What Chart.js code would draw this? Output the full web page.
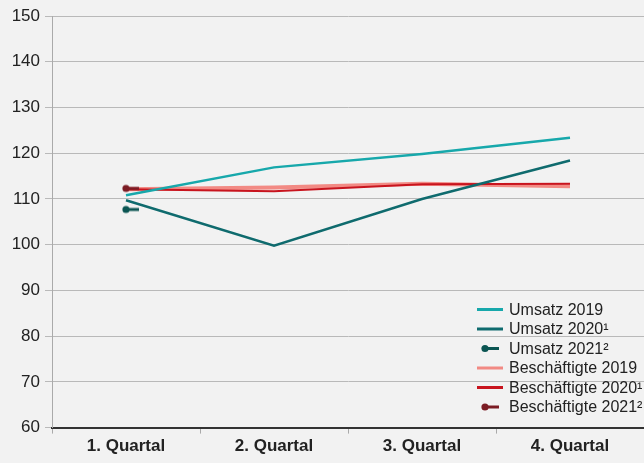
<!DOCTYPE html>
<html><head><meta charset="utf-8">
<script src="https://cdn.jsdelivr.net/npm/chart.js@4"></script>
<style>
html,body{margin:0;padding:0;background:#f2f2f2;}
#wrap{width:644px;height:463px;position:relative;}
</style></head>
<body><div id="wrap"><canvas id="c" width="644" height="463"></canvas></div>
<script>
const categories = ["1. Quartal","2. Quartal","3. Quartal","4. Quartal"];
const umsatz2019 = [110.8, 116.9, 119.8, 123.4];
const umsatz2020 = [109.7, 99.8, 110.0, 118.4];
const umsatz2021 = [107.7, null, null, null];
const besch2019 = [112.1, 112.5, 113.3, 112.8];
const besch2020 = [112.1, 111.7, 113.2, 113.3];
const besch2021 = [112.3, null, null, null];
const yTicks = [60,70,80,90,100,110,120,130,140,150];

const FONT = "'Liberation Sans', Arial, Helvetica, sans-serif";
const C = {
  u19:'#17a8ab', u20:'#0f6b6e', u21:'#0b5552',
  b19:'#f28a84', b20:'#c8141e', b21:'#7b1c24'
};
function stubPoint(color){
  const c=document.createElement('canvas'); c.width=30; c.height=10;
  const x=c.getContext('2d');
  x.strokeStyle=color; x.lineWidth=3; x.beginPath(); x.moveTo(15,5); x.lineTo(28,5); x.stroke();
  x.fillStyle=color; x.beginPath(); x.arc(15,5,3.6,0,Math.PI*2); x.fill();
  return c;
}
const datasets = [
  {label:'Umsatz 2019', data:umsatz2019, borderColor:C.u19, borderWidth:2.5, pointRadius:0, order:1, kind:'line'},
  {label:'Umsatz 2020\u00B9', data:umsatz2020, borderColor:C.u20, borderWidth:2.5, pointRadius:0, order:2, kind:'line'},
  {label:'Umsatz 2021\u00B2', data:umsatz2021, borderColor:C.u21, backgroundColor:C.u21, borderWidth:2.5, pointRadius:5, pointStyle:stubPoint(C.u21), order:0, kind:'stub'},
  {label:'Besch\u00E4ftigte 2019', data:besch2019, borderColor:C.b19, borderWidth:4, pointRadius:0, order:4, kind:'line'},
  {label:'Besch\u00E4ftigte 2020\u00B9', data:besch2020, borderColor:C.b20, borderWidth:2, pointRadius:0, order:3, kind:'line'},
  {label:'Besch\u00E4ftigte 2021\u00B2', data:besch2021, borderColor:C.b21, backgroundColor:C.b21, borderWidth:2.5, pointRadius:5, pointStyle:stubPoint(C.b21), order:0, kind:'stub'}
];
datasets.forEach(d=>{d.tension=0; d.fill=false; d.pointHoverRadius=0;});

const legendPlugin = {
  id:'customLegend',
  afterDraw(chart){
    const ctx=chart.ctx; ctx.save();
    ctx.font='16px '+FONT; ctx.textBaseline='middle'; ctx.fillStyle='#222';
    chart.data.datasets.forEach((d,i)=>{
      const y=309.5+i*19.5;
      ctx.strokeStyle=d.borderColor; ctx.lineWidth=3;
      if(d.kind==='stub'){
        ctx.beginPath(); ctx.moveTo(485,y); ctx.lineTo(499,y); ctx.stroke();
        ctx.fillStyle=d.borderColor; ctx.beginPath(); ctx.arc(485,y,3.6,0,Math.PI*2); ctx.fill();
      } else {
        ctx.beginPath(); ctx.moveTo(477,y); ctx.lineTo(503,y); ctx.stroke();
      }
      ctx.fillStyle='#222'; ctx.fillText(d.label,509,y+1);
    });
    ctx.restore();
  }
};

new Chart(document.getElementById('c'),{
  type:'line',
  data:{labels:categories, datasets:datasets},
  options:{
    responsive:false, animation:false,
    layout:{autoPadding:false, padding:{top:16,right:0,bottom:3,left:0}},
    plugins:{legend:{display:false},tooltip:{enabled:false}},
    scales:{
      x:{
        offset:true,
        afterFit(ax){ax.paddingRight=0; ax.paddingLeft=0;},
        grid:{offset:true, drawOnChartArea:false, drawTicks:true, tickLength:6, color:'#aaa'},
        border:{display:true, color:'#333', width:2},
        ticks:{font:{family:FONT,size:17,weight:'bold'}, color:'#222', padding:3}
      },
      y:{
        min:60, max:150,
        afterBuildTicks(ax){ax.ticks=yTicks.map(v=>({value:v}));},
        afterFit(ax){ax.width=52;},
        grid:{color:'#b9b9b9', lineWidth:1, tickLength:7},
        border:{display:true, color:'#aaa', width:1},
        ticks:{font:{family:FONT,size:17}, color:'#222', padding:5}
      }
    }
  },
  plugins:[legendPlugin]
});
</script></body></html>
